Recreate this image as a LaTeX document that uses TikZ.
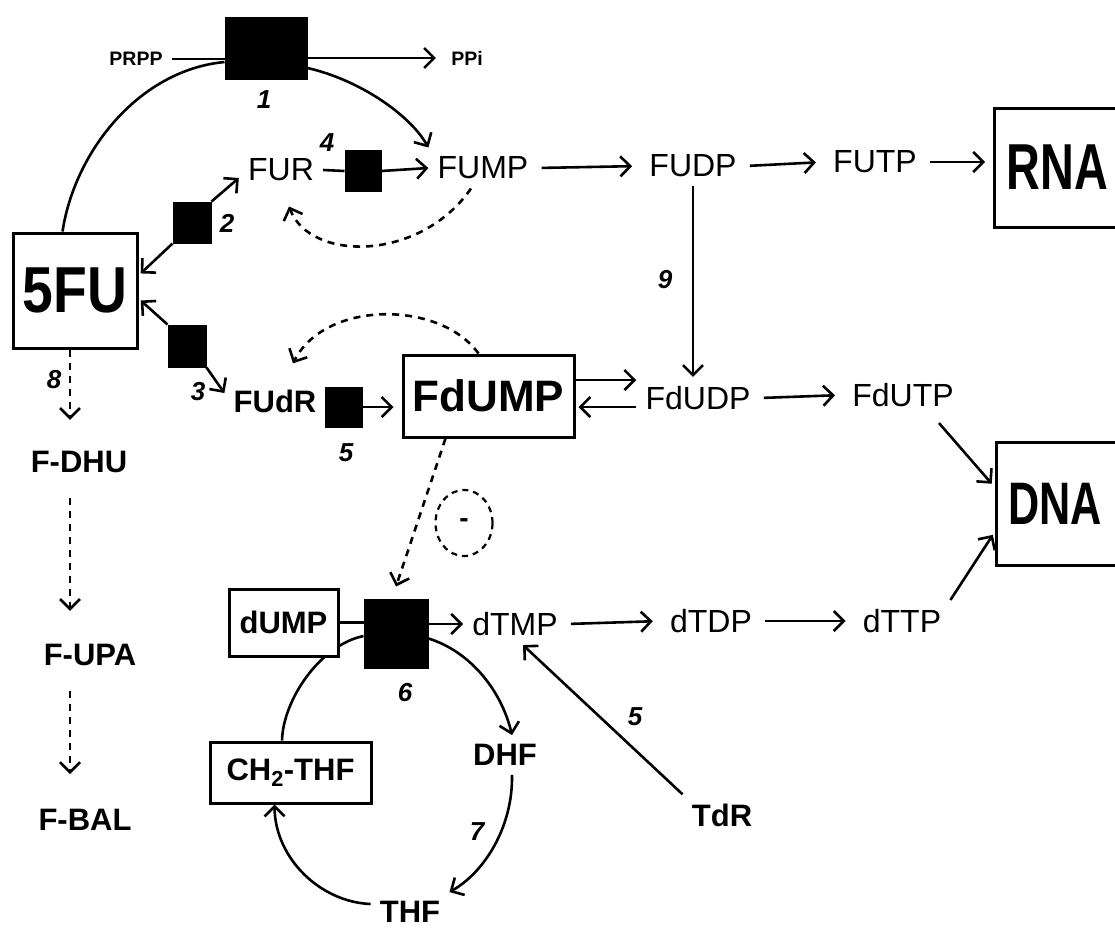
\documentclass[tikz,border=0pt]{standalone}
\usepackage{fontspec}
\setmainfont{Liberation Sans}
\usepackage{graphicx}
\usetikzlibrary{arrows.meta,shapes.geometric,calc}

\begin{document}
\begin{tikzpicture}[
  x=1pt, y=-1pt,
  line width=2.6pt,
  met/.style={inner sep=8pt, font=\fontsize{32}{36}\selectfont},
  metb/.style={inner sep=8pt, font=\bfseries\fontsize{31}{36}\selectfont},
  caja/.style={draw, line width=3pt, fill=white, inner sep=0pt},
  enz/.style={fill=black, draw=black, line width=1pt, inner sep=0pt},
  num/.style={font=\bfseries\itshape\fontsize{26}{26}\selectfont, inner sep=0pt},
  arr/.style={-{Straight Barb[length=10pt,width=20pt]}},
  flow/.style={arr, shorten <=4pt, shorten >=8pt},
  dasharr/.style={arr, dash pattern=on 7pt off 6pt}
]
  \useasboundingbox (0,0) rectangle (1115,930);

  % ==========================================
  % 1. ENZIMAS (cuadros negros)
  % ==========================================
  \node[enz, minimum width=82pt, minimum height=62pt] (e1) at (266,48) {};
  \node[enz, minimum width=38pt, minimum height=41pt] (e2) at (192,222.5) {};
  \node[enz, minimum width=38pt, minimum height=42pt] (e3) at (187,346) {};
  \node[enz, minimum width=36pt, minimum height=41pt] (e4) at (363,171) {};
  \node[enz, minimum width=37pt, minimum height=40pt] (e5) at (343.5,407) {};
  \node[enz, minimum width=64pt, minimum height=69pt] (e6) at (396,633.5) {};

  \node[num] (n1) at (264,100) {1};
  \node[num] (n2) at (227,223) {2};
  \node[num] (n3) at (198,392) {3};
  \node[num] (n4) at (327,143) {4};
  \node[num] (n5a) at (346,453) {5};
  \node[num] (n6) at (405,693) {6};
  \node[num] (n7) at (477,832) {7};
  \node[num] (n8) at (54,380) {8};
  \node[num] (n9) at (665,280) {9};
  \node[num] (n5b) at (635,717) {5};

  % ==========================================
  % 2. METABOLITOS
  % ==========================================
  \node[metb, font=\bfseries\fontsize{19.5}{22}\selectfont] (prpp) at (136,59) {PRPP};
  \node[metb, font=\bfseries\fontsize{19.5}{22}\selectfont] (ppi) at (467,58) {PPi};
  \node[caja, minimum width=124pt, minimum height=115pt] (fu) at (75,290.5)
    {\bfseries\fontsize{65}{70}\selectfont\scalebox{0.85}[1]{5FU}};
  \node[met] (fur) at (281,170) {FUR};
  \node[met] (fump) at (483,168) {FUMP};
  \node[met] (fudp) at (693,166) {FUDP};
  \node[met] (futp) at (875,162) {FUTP};
  \node[caja, anchor=west, minimum height=119pt, inner xsep=12pt] (rna) at (993,167.5)
    {\makebox[176pt][l]{\bfseries\fontsize{65}{70}\selectfont\scalebox{0.72}[1]{RNA}}};
  \node[metb] (fudr) at (275,401) {FUdR};
  \node[caja, minimum width=171pt, minimum height=82pt] (fdump) at (488.5,396)
    {\bfseries\fontsize{44}{48}\selectfont FdUMP};
  \node[met] (fdudp) at (698,398) {FdUDP};
  \node[met] (fdutp) at (903,395) {FdUTP};
  \node[caja, anchor=west, minimum height=123pt, inner xsep=12pt] (dna) at (995,503.5)
    {\makebox[176pt][l]{\bfseries\fontsize{60}{66}\selectfont\scalebox{0.72}[1]{DNA}}};
  \node[ellipse, draw, dash pattern=on 6pt off 5pt, line width=2.2pt, minimum width=57pt,
    minimum height=66pt, inner sep=0pt, font=\bfseries\fontsize{28}{28}\selectfont] (inh) at (464,523) {-};
  \node[metb] (dhu) at (79,462) {F-DHU};
  \node[metb] (dupa) at (90,655) {F-UPA};
  \node[metb] (dbal) at (85,820) {F-BAL};
  \node[met] (dtmp) at (515,624) {dTMP};
  \node[met] (dtdp) at (711,621) {dTDP};
  \node[met] (dttp) at (902,621) {dTTP};
  \node[metb] (dhf) at (505,755) {DHF};
  \node[metb] (thf) at (410,912) {THF};
  \node[caja, minimum width=161pt, minimum height=61pt, font=\bfseries\fontsize{31}{36}\selectfont]
    (ch2) at (290.5,772.5) {CH\textsubscript{2}-THF};
  \node[metb] (tdr) at (722,815) {TdR};

  % ==========================================
  % 3. REACCIONES
  % ==========================================
  % PRPP -> PPi (enzima 1)
  \draw (prpp.east) -- (prpp.east -| e1.west);
  \draw[arr, shorten >=6pt] (e1.east |- ppi.west) -- (ppi.west);
  \draw ([xshift=-12.5pt]fu.north) .. controls (75,150) and (140,70) .. ([yshift=-14pt]e1.west);
  \draw[arr] ([yshift=-20pt]e1.east) .. controls (360,80) and (410,115) .. (fump.north west);

  % 5FU <-> FUR, 5FU <-> FUdR
  \draw[arr] (e2.north east) -- ([yshift=-8pt]fur.west);
  \draw[arr, shorten >=3pt] (e2.south west) -- ([yshift=15pt]fu.east);
  \draw[arr, shorten >=3pt] (e3.north west) -- ([yshift=-8pt]fu.east);
  \draw[arr] (e3.south east) -- ([yshift=8pt]fudr.west);

  % FUR -> FUMP -> FUDP -> FUTP -> RNA
  \draw (fur.east) -- (e4.west);
  \draw[arr] (e4.east) -- (fump.west);
  \draw[dasharr] ([xshift=-12pt]fump.south) .. controls (420,262) and (310,262) .. ([xshift=8pt,yshift=-16pt]fur.south);
  \draw[flow] (fump.east) -- (fudp.west);
  \draw[flow] (fudp.east) -- (futp.west);
  \draw[flow] (futp.east) -- (futp.east -| rna.west);
  \draw[arr] (fudp.south) -- (fudp.south |- fdudp.north);

  % FUdR -> FdUMP <-> FdUDP -> FdUTP -> DNA
  \draw[arr, shorten >=8pt] (e5.east) -- (e5.east -| fdump.west);
  \draw[arr] ($(fdump.east)+(0,-16)$) -- ($(fdump.east -| fdudp.west)+(0,-16)$);
  \draw[arr, shorten >=3pt] ($(fdump.east -| fdudp.west)+(0,11)$) -- ($(fdump.east)+(0,11)$);
  \draw[flow] (fdudp.east) -- (fdutp.west);
  \draw[arr, shorten >=5pt] ([xshift=-24pt,yshift=-7pt]fdutp.south east) -- ([yshift=16pt]dna.west);
  \draw[dasharr] ([xshift=-10pt]fdump.north) .. controls (440,300) and (325,300) .. ([xshift=18pt,yshift=17pt]fudr.north);
  \draw[dasharr] ([xshift=-43pt]fdump.south) -- ([yshift=12pt]e6.north);

  % catabolismo
  \draw[dasharr, shorten >=22pt] ($(fu.south)+(-5,0)$) -- ($(fu.south |- dhu.north)+(-5,0)$);
  \draw[dasharr, shorten <=16pt, shorten >=24pt] ($(dhu.south -| fu.south)+(-5,0)$) -- ($(dupa.north -| fu.south)+(-5,0)$);
  \draw[dasharr, shorten <=16pt, shorten >=26pt] ($(dupa.south -| fu.south)+(-5,0)$) -- ($(dbal.north -| fu.south)+(-5,0)$);

  % dTMP -> dTDP -> dTTP -> DNA
  \draw[arr] (e6.east |- dtmp.west) -- (dtmp.west);
  \draw[flow] (dtmp.east) -- (dtdp.west);
  \draw[flow] (dtdp.east) -- (dttp.west);
  \draw[arr, shorten >=4pt] (dttp.north east) -- ([yshift=-28pt]dna.west);
  \draw[arr] (tdr.north west) -- ([xshift=8pt]dtmp.south);

  % ciclo de folatos
  \draw[arr] ([yshift=-5pt]e6.east) .. controls (469,651) and (501,689) .. ([xshift=7pt]dhf.north);
  \draw[arr] ([xshift=7pt]dhf.south) .. controls (513,826) and (485,872) .. (thf.north east);
  \draw[arr] ([yshift=8pt]thf.west) .. controls (320,902) and (275,858) .. ([xshift=-16pt]ch2.south);
  \draw ([xshift=-8.5pt]ch2.north) .. controls (283,700) and (320,645) .. ([yshift=-2.5pt]e6.west);

  % dUMP encima del arco
  \node[caja, minimum width=109pt, minimum height=67pt, font=\bfseries\fontsize{31}{36}\selectfont]
    (dump) at (283.5,622.5) {dUMP};
  \draw (dump.east) -- (dump.east -| e6.west);

\end{tikzpicture}
\end{document}
